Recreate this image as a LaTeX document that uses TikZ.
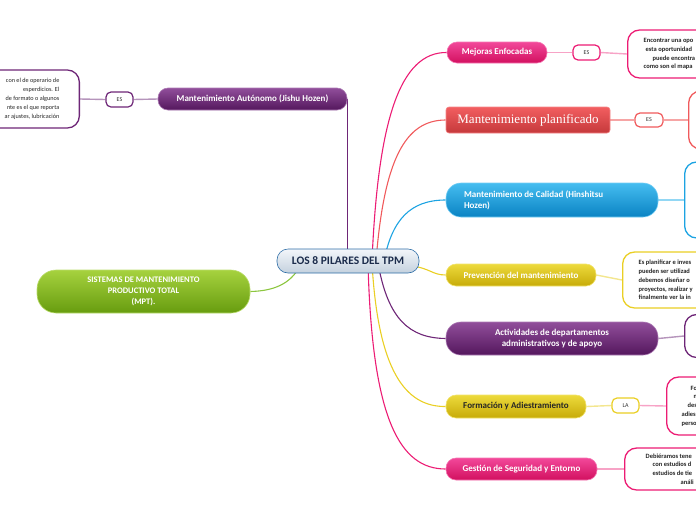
\documentclass[tikz,border=0pt]{standalone}
\usepackage{fontspec}
\setmainfont{Carlito}
\newfontfamily\planfont{Liberation Serif}
\usetikzlibrary{backgrounds,calc}

\definecolor{rosaA}{HTML}{F2489A}
\definecolor{rosaB}{HTML}{D2105F}
\definecolor{rosa}{HTML}{EC1C74}
\definecolor{rosaL}{HTML}{F7A3C6}
\definecolor{rojoA}{HTML}{F25E60}
\definecolor{rojoB}{HTML}{C5393B}
\definecolor{rojo}{HTML}{F05A5C}
\definecolor{rojoL}{HTML}{F6A5A5}
\definecolor{azulA}{HTML}{45BDF0}
\definecolor{azulB}{HTML}{0A83C3}
\definecolor{azul}{HTML}{1CA3E2}
\definecolor{azulL}{HTML}{92D7F4}
\definecolor{amarA}{HTML}{EDDA3C}
\definecolor{amarB}{HTML}{C7AB08}
\definecolor{amar}{HTML}{EACF24}
\definecolor{amarL}{HTML}{F3E68F}
\definecolor{morA}{HTML}{914E9B}
\definecolor{morB}{HTML}{54175D}
\definecolor{mor}{HTML}{6E2677}
\definecolor{morL}{HTML}{B594BB}
\definecolor{verA}{HTML}{A6D23E}
\definecolor{verB}{HTML}{679C0F}
\definecolor{ver}{HTML}{8CC63F}
\definecolor{hubA}{HTML}{F3F6FA}
\definecolor{hubB}{HTML}{C4D1DE}
\definecolor{hubBorde}{HTML}{2D6DA6}
\definecolor{hubTxt}{HTML}{1B2B4B}

\tikzset{
  pilar/.style={line width=0.6pt, rounded corners=10pt, text=white,
    font=\bfseries\fontsize{9}{11}\selectfont, inner sep=0pt, align=center},
  tono/.style 2 args={top color=#1, bottom color=#2, draw=#1!75!white},
  nota/.style={draw=#1, fill=white, line width=1.3pt, rounded corners=12pt,
    text=black!85, font=\bfseries\fontsize{6.5}{8.8}\selectfont,
    align=flush left, anchor=west, inner ysep=0pt},
  etiqueta/.style={draw=#1, fill=white, line width=1.2pt, rounded corners=5pt,
    minimum width=27pt, minimum height=15pt, inner sep=0pt, text=black!80,
    font=\fontsize{6}{7}\selectfont},
  rama/.style={line width=1.1pt, draw=#1},
  enlace/.style={line width=1.4pt, draw=#1}
}

\begin{document}
\begin{tikzpicture}[x=1pt,y=-1pt]
\useasboundingbox (0,0) rectangle (696,520);
\clip (0,0) rectangle (696,520);

% centro
\node[pilar, tono={hubA}{hubB}, draw=hubBorde, text=hubTxt, rounded corners=11pt,
  font=\bfseries\fontsize{11.5}{13}\selectfont,
  minimum width=142pt, minimum height=24pt] (hub) at (348,261) {LOS 8 PILARES DEL TPM};
\node[pilar, tono={verA}{verB}, rounded corners=19pt, font=\bfseries\fontsize{8.5}{11}\selectfont,
  minimum width=213pt, minimum height=43pt] (mpt) at (143.5,291.5)
  {SISTEMAS DE MANTENIMIENTO\\PRODUCTIVO TOTAL\\(MPT).};

% izquierda
\node[pilar, tono={morA}{morB}, minimum width=189pt, minimum height=22pt] (aut) at (252.5,99)
  {Mantenimiento Autónomo (Jishu Hozen)};
\node[etiqueta=mor] (esA) at (119.5,99.5) {ES};
\node[nota=mor, anchor=east, align=flush right, font=\fontsize{6.2}{9}\selectfont,
  text width=210pt, inner xsep=20pt, minimum height=58pt] (notaA) at (80,99)
  {con el de operario de\\esperdicios. El\hspace*{10pt}\\de formato o algunos\\nte es el que reporta\\ar ajustes, lubricación};

% derecha
\node[pilar, tono={rosaA}{rosaB}, minimum width=100pt, minimum height=21pt] (mej) at (497,52.5)
  {Mejoras Enfocadas};
\node[etiqueta=rosa] (esM) at (586.5,52.5) {ES};
\node[nota=rosa, text width=120pt, inner xsep=16pt, minimum height=48pt] (notaM) at (627,54)
  {Encontrar una opo\\\hspace*{2pt}esta oportunidad\\\hspace*{9pt}puede encontra\\como son el mapa};

\node[pilar, tono={rojoA}{rojoB}, rounded corners=3pt, font=\planfont\fontsize{13}{15}\selectfont,
  minimum width=164pt, minimum height=26pt] (plan) at (528,120) {Mantenimiento planificado};
\node[etiqueta=rojo, minimum width=28pt, minimum height=14pt] (esP) at (649,120) {ES};
\node[nota=rojo, minimum width=60pt, minimum height=58pt] (notaP) at (688,120) {};

\node[pilar, tono={azulA}{azulB}, rounded corners=15pt, align=flush left,
  text width=176pt, inner xsep=18pt, minimum height=34pt] (cal) at (552,200)
  {Mantenimiento de Calidad (Hinshitsu\\Hozen)};
\node[nota=azul, minimum width=60pt, minimum height=76pt] (notaC) at (684,200) {};

\node[pilar, tono={amarA}{amarB}, minimum width=150pt, minimum height=22pt] (prev) at (521,275)
  {Prevención del mantenimiento};
\node[nota=amar, text width=100pt, inner xsep=16pt, minimum height=56pt] (notaPv) at (622,280)
  {Es planificar e inves\\pueden ser utilizad\\debemos diseñar o\\proyectos, realizar y\\finalmente ver la in};

\node[pilar, tono={morA}{morB}, rounded corners=15pt, minimum width=212pt, minimum height=33pt] (act)
  at (552,338.5) {Actividades de departamentos\\administrativos y de apoyo};
\node[nota=mor, minimum width=60pt, minimum height=43pt] (notaAc) at (684,336) {};

\node[pilar, tono={amarA}{amarB}, text=black!85, minimum width=140pt, minimum height=23pt] (form)
  at (516,406.5) {Formación y Adiestramiento};
\node[etiqueta=amar] (laF) at (625.5,405.5) {LA};
\node[nota=rosa, text width=60pt, inner xsep=15pt, minimum height=58pt] (notaF) at (666,406)
  {\hspace*{9pt}Fo\\\hspace*{12pt}n\\\hspace*{6pt}des\\adies\\perso};

\node[pilar, tono={rosaA}{rosaB}, minimum width=151pt, minimum height=22pt] (seg) at (521.5,469)
  {Gestión de Seguridad y Entorno};
\node[nota=rosa, text width=80pt, inner xsep=21pt, minimum height=42pt] (notaS) at (624,469)
  {Debiéramos tene\\\hspace*{7pt}con estudios d\\\hspace*{7pt}estudios de tie\\\hspace*{35pt}análi};

% ramas
\begin{scope}[on background layer]
  \draw[rama=mor] (aut.east) -- (aut.east |- hub.center);
  \draw[rama=ver] ($(hub.center)+(-48,5)$) .. controls (290,285) and (272,291) .. (mpt.east);
  \draw[rama=rosa] ($(hub.center)+(24,0)$) .. controls (378,120) and (400,52) .. (mej.west);
  \draw[rama=rojo] ($(hub.center)+(28,0)$) .. controls (384,160) and (405,120) .. (plan.west);
  \draw[rama=azul] ($(hub.center)+(36,0)$) .. controls (392,220) and (410,200) .. (cal.west);
  \draw[rama=amar] ($(hub.east)+(-8,5)$) .. controls (430,268) and (432,275) .. (prev.west);
  \draw[rama=mor] ($(hub.center)+(30,2)$) .. controls (388,320) and (410,338) .. (act.west);
  \draw[rama=amar] ($(hub.center)+(24,2)$) .. controls (378,370) and (405,407) .. (form.west);
  \draw[rama=rosa] ($(hub.center)+(20,2)$) .. controls (372,420) and (400,469) .. (seg.west);

  \draw[enlace=morL] (aut.west) -- (esA.east);
  \draw[enlace=morL] (esA.west) -- (notaA.east);
  \draw[enlace=rosaL] (mej.east) -- (esM.west);
  \draw[enlace=rosaL] (esM.east) -- (notaM.west);
  \draw[enlace=rojoL] (plan.east) -- (esP.west);
  \draw[enlace=rojoL] (esP.east) -- (notaP.west);
  \draw[enlace=azulL] (cal.east) -- (notaC.west);
  \draw[enlace=amarL] (prev.east) -- (notaPv.west);
  \draw[enlace=morL] (act.east) -- (notaAc.west);
  \draw[enlace=amarL] (form.east) -- (laF.west);
  \draw[enlace=rosaL] (laF.east) -- (notaF.west);
  \draw[enlace=rosaL] (seg.east) -- (notaS.west);
\end{scope}
\end{tikzpicture}
\end{document}
